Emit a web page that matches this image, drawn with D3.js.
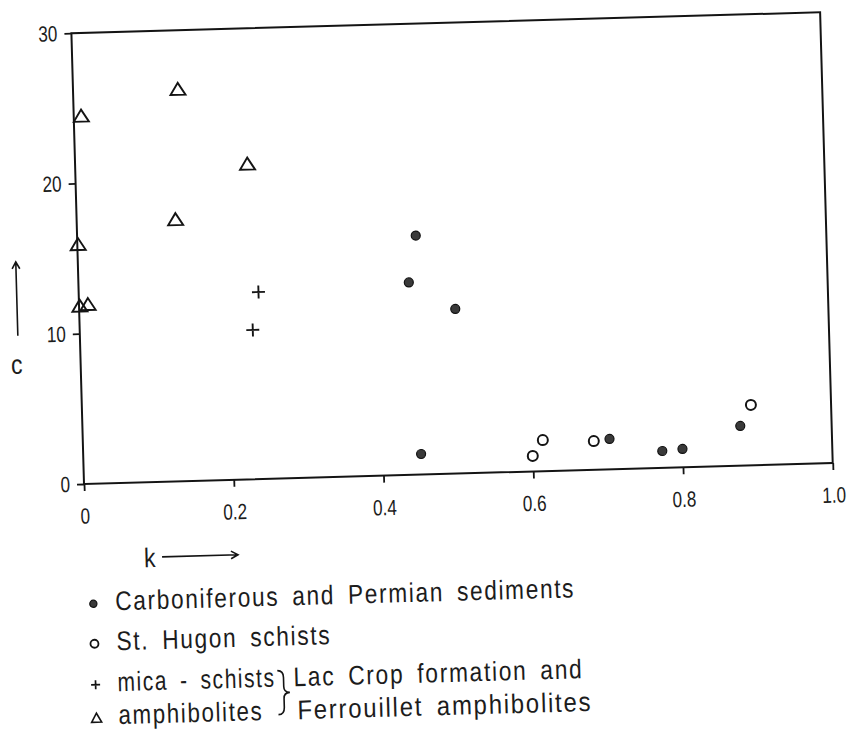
<!DOCTYPE html>
<html>
<head>
<meta charset="utf-8">
<script src="https://cdn.jsdelivr.net/npm/d3@7"></script>
<style>
  html, body { margin: 0; padding: 0; background: #fff; }
  svg { display: block; }
  text { font-family: "Liberation Sans", Arial, sans-serif; fill: #1c1c1c; }
</style>
</head>
<body>
<svg id="chart" width="849" height="732"></svg>
<script>
// k (x) and c (y) values for each rock group
const carboniferous = [
  [0.452, 15.9], [0.441, 12.8], [0.502, 10.95], [0.451, 1.37],
  [0.703, 2.02], [0.773, 1.12], [0.800, 1.22], [0.878, 2.64]
];
const stHugon = [
  [0.600, 1.03], [0.614, 2.07], [0.682, 1.91], [0.893, 4.02]
];
const micaSchists = [
  [0.240, 12.44], [0.231, 9.93]
];
const amphibolites = [
  [0.010, 24.5], [0.140, 26.1], [0.230, 21.0], [0.132, 17.44],
  [0.001, 15.97], [0.001, 11.87], [0.012, 11.96]
];

const xTicks = [0, 0.2, 0.4, 0.6, 0.8, 1.0];
const xTickLabels = ["0", "0.2", "0.4", "0.6", "0.8", "1.0"];
const yTicks = [0, 10, 20, 30];
const yTickLabels = ["0", "10", "20", "30"];

const legendLabels = [
  "Carboniferous and Permian sediments",
  "St. Hugon schists",
  "mica - schists",
  "amphibolites"
];
const groupLabels = ["Lac Crop formation and", "Ferrouillet amphibolites"];
const xLabel = "k";
const yLabel = "c";

// ---- layout ----
const plot = { left: 84, right: 833, top: 33, bottom: 484 };
const ink = "#141414";

const x = d3.scaleLinear().domain([0, 1]).range([plot.left, plot.right]);
const y = d3.scaleLinear().domain([0, 30]).range([plot.bottom, plot.top]);

const svg = d3.select("#chart");
// the whole sheet sits slightly skewed on the page
const g = svg.append("g").attr("transform", `rotate(-1.6, ${plot.left}, ${plot.bottom})`);

// narrow lettering: squeeze text horizontally about its anchor
function squeeze(sel, f) {
  sel.each(function () {
    const x0 = +(this.getAttribute("x") || 0);
    d3.select(this).attr("transform", `translate(${x0},0) scale(${f},1) translate(${-x0},0)`);
  });
}
function fitWidth(sel, w) {
  sel.attr("textLength", w).attr("lengthAdjust", "spacingAndGlyphs");
}

// frame
g.append("rect")
  .attr("x", plot.left).attr("y", plot.top)
  .attr("width", plot.right - plot.left).attr("height", plot.bottom - plot.top)
  .attr("fill", "none").attr("stroke", ink).attr("stroke-width", 2);

// axes
const xAxis = d3.axisBottom(x)
  .tickValues(xTicks)
  .tickFormat((d, i) => xTickLabels[i])
  .tickSize(7).tickSizeOuter(0).tickPadding(17);
const yAxis = d3.axisLeft(y)
  .tickValues(yTicks)
  .tickFormat((d, i) => yTickLabels[i])
  .tickSize(7).tickSizeOuter(0).tickPadding(7);

const gx = g.append("g").attr("transform", `translate(0, ${plot.bottom})`).call(xAxis);
const gy = g.append("g").attr("transform", `translate(${plot.left}, 0)`).call(yAxis);
[gx, gy].forEach(a => {
  a.select(".domain").remove();
  a.selectAll(".tick line").attr("stroke", ink).attr("stroke-width", 1.8);
  a.selectAll(".tick text")
    .attr("fill", "#1c1c1c")
    .style("font-family", '"Liberation Sans", Arial, sans-serif')
    .style("font-size", "22px")
    .call(squeeze, 0.78);
});

// ---- marker shapes ----
function drawDot(sel, r) {
  sel.append("circle").attr("r", r).attr("fill", "#3a3a3a").attr("stroke", "#111").attr("stroke-width", 1.2);
}
function drawRing(sel, r, w) {
  sel.append("circle").attr("r", r).attr("fill", "#fff").attr("stroke", ink).attr("stroke-width", w);
}
function drawPlus(sel, h, w) {
  sel.append("path").attr("d", `M${-h},0H${h}M0,${-h}V${h}`)
    .attr("stroke", ink).attr("stroke-width", w).attr("fill", "none");
}
function drawTriangle(sel, hw, hh, w) {
  sel.append("path").attr("d", `M${-hw},${hh}L${hw},${hh}L0,${-hh}Z`)
    .attr("stroke", ink).attr("stroke-width", w).attr("fill", "none").attr("stroke-linejoin", "miter");
}

function plotSeries(data, draw) {
  g.append("g").selectAll("g").data(data).join("g")
    .attr("transform", d => `translate(${x(d[0])}, ${y(d[1])})`)
    .each(function () { draw(d3.select(this)); });
}

plotSeries(amphibolites, s => drawTriangle(s, 7.5, 6, 1.9));
plotSeries(micaSchists, s => drawPlus(s, 6.5, 1.9));
plotSeries(stHugon, s => drawRing(s, 5, 2));
plotSeries(carboniferous, s => drawDot(s, 4.5));

// ---- axis titles with arrows ----
function arrow(x1, y1, x2, y2) {
  const a = Math.atan2(y2 - y1, x2 - x1), L = 8, sp = 0.5;
  g.append("path")
    .attr("d", `M${x1},${y1}L${x2},${y2}` +
      `M${x2 - L * Math.cos(a - sp)},${y2 - L * Math.sin(a - sp)}L${x2},${y2}` +
      `L${x2 - L * Math.cos(a + sp)},${y2 - L * Math.sin(a + sp)}`)
    .attr("stroke", ink).attr("stroke-width", 1.6).attr("fill", "none");
}

g.append("text").attr("x", 142).attr("y", 569).style("font-size", "27px").text(xLabel).call(squeeze, 0.85);
arrow(160, 559, 236, 559);

g.append("text").attr("x", 20).attr("y", 372).attr("text-anchor", "middle").style("font-size", "27px").text(yLabel).call(squeeze, 0.85);
arrow(22, 334, 22, 260);

// ---- legend ----
const rowY = [611, 651, 692, 725];
const rowWidth = [460, 215, 158, 145];
const groupWidth = [290, 295];
const legendDraw = [
  s => drawDot(s, 3.6),
  s => drawRing(s, 4, 1.8),
  s => drawPlus(s, 4.5, 1.7),
  s => drawTriangle(s, 5, 4.5, 1.6)
];
const legend = g.append("g");
legendLabels.forEach((label, i) => {
  const m = legend.append("g").attr("transform", `translate(90, ${rowY[i] - 7})`);
  legendDraw[i](m);
  legend.append("text")
    .attr("x", 112).attr("y", rowY[i])
    .style("font-size", "27px")
    .style("letter-spacing", "2px").style("word-spacing", "6px")
    .text(label)
    .call(fitWidth, rowWidth[i]);
});

// brace grouping the last two entries
legend.append("path")
  .attr("d", "M272,676 Q278,676 278,683 L278,692 Q278,698 284,698 Q278,698 278,704 L278,713 Q278,720 272,720")
  .attr("stroke", ink).attr("stroke-width", 1.6).attr("fill", "none");

groupLabels.forEach((label, i) => {
  legend.append("text")
    .attr("x", 288 + i * 3).attr("y", rowY[2 + i])
    .style("font-size", "27px")
    .style("letter-spacing", "2px").style("word-spacing", "6px")
    .text(label)
    .call(fitWidth, groupWidth[i]);
});
</script>
</body>
</html>
